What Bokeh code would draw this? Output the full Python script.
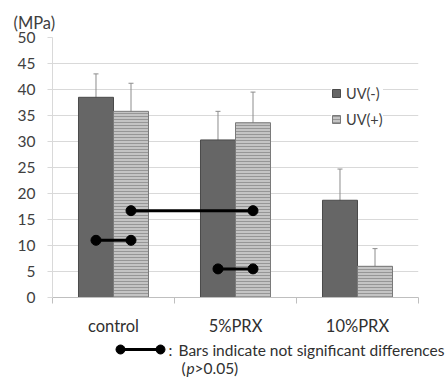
from bokeh.plotting import figure
from bokeh.models import (ColumnDataSource, FixedTicker, Range1d, Whisker, TeeHead,
                          Label, Legend, LegendItem, Title)
from bokeh.embed import file_html
from bokeh.resources import INLINE

categories = ["control", "5%PRX", "10%PRX"]
series = ["UV(-)", "UV(+)"]
uv_minus = [38.5, 30.3, 18.7]
uv_minus_err_hi = [43.0, 35.8, 24.7]
uv_minus_err_lo = [34.0, 24.9, 12.9]
uv_plus = [35.8, 33.6, 6.0]
uv_plus_err_hi = [41.2, 39.5, 9.4]
uv_plus_err_lo = [30.3, 27.7, 2.7]
y_ticks = [0, 5, 10, 15, 20, 25, 30, 35, 40, 45, 50]

# non-significant pairs: (category, series index) -> (category, series index) at height
sig_from_cat = ["control", "control", "5%PRX"]
sig_from_ser = [0, 1, 0]
sig_to_cat = ["control", "5%PRX", "5%PRX"]
sig_to_ser = [1, 1, 1]
sig_y = [11.0, 16.7, 5.5]

FONT = "Lato"
TXT = "#404040"
GRID = "#d9d9d9"
BW = 0.287
OFF = [-BW / 2, BW / 2]

def xpos(cat, s):
    return categories.index(cat) + 0.5 + OFF[s]

p = figure(width=448, height=338, output_backend="svg", toolbar_location=None,
           x_range=Range1d(0, 3), y_range=Range1d(0, 50),
           min_border_left=52, min_border_right=30, min_border_top=37, min_border_bottom=38)
p.title = Title(text="(MPa)", align="left", offset=-39, text_font=FONT,
                text_font_size="16.5px", text_font_style="normal", text_color=TXT, standoff=10)
p.outline_line_color = None
p.background_fill_color = "white"
p.border_fill_color = "white"

p.ygrid.grid_line_color = GRID
p.ygrid.grid_line_width = 1
p.xgrid.grid_line_color = None

p.yaxis.ticker = FixedTicker(ticks=y_ticks)
p.yaxis.axis_line_color = GRID
p.yaxis.major_tick_line_color = GRID
p.yaxis.major_tick_out = 5
p.yaxis.major_tick_in = 0
p.yaxis.minor_tick_line_color = None
p.yaxis.major_label_standoff = 12
p.yaxis.major_label_text_font = FONT
p.yaxis.major_label_text_font_size = "15.5px"
p.yaxis.major_label_text_color = TXT

centers = [i + 0.5 for i in range(len(categories))]
p.xaxis.ticker = FixedTicker(ticks=centers, minor_ticks=[0, 1, 2, 3])
p.xaxis.major_label_overrides = {c: categories[i] for i, c in enumerate(centers)}
p.xaxis.axis_line_color = "#bfbfbf"
p.xaxis.major_tick_line_color = None
p.xaxis.major_tick_out = 0
p.xaxis.minor_tick_line_color = "#bfbfbf"
p.xaxis.minor_tick_out = 6
p.xaxis.minor_tick_in = 0
p.xaxis.major_label_standoff = 12
p.xaxis.major_label_text_font = FONT
p.xaxis.major_label_text_font_size = "16.5px"
p.xaxis.major_label_text_color = "#303030"

src_m = ColumnDataSource(dict(x=[xpos(c, 0) for c in categories], top=uv_minus,
                              hi=uv_minus_err_hi, lo=uv_minus_err_lo))
src_p = ColumnDataSource(dict(x=[xpos(c, 1) for c in categories], top=uv_plus,
                              hi=uv_plus_err_hi, lo=uv_plus_err_lo))

r_m = p.vbar(x="x", top="top", bottom=0, width=BW, source=src_m,
             fill_color="#666666", line_color="#4a4a4a", line_width=1)
r_p = p.vbar(x="x", top="top", bottom=0, width=BW, source=src_p,
             fill_color="#c4c4c4", line_color="#7a7a7a", line_width=1,
             hatch_pattern="horizontal_line", hatch_color="#969696",
             hatch_scale=3, hatch_weight=1)

for src in (src_m, src_p):
    w = Whisker(base="x", upper="hi", lower="lo", source=src, dimension="height",
                line_color="#8c8c8c", line_width=1,
                upper_head=TeeHead(size=5, line_color="#8c8c8c", line_width=1),
                lower_head=TeeHead(size=5, line_color="#8c8c8c", line_width=1))
    p.add_layout(w)

sig_src = ColumnDataSource(dict(
    x0=[xpos(c, s) for c, s in zip(sig_from_cat, sig_from_ser)],
    x1=[xpos(c, s) for c, s in zip(sig_to_cat, sig_to_ser)],
    y=sig_y))
p.segment(x0="x0", y0="y", x1="x1", y1="y", source=sig_src, line_color="black", line_width=3)
p.scatter(x="x0", y="y", source=sig_src, size=10, color="black")
p.scatter(x="x1", y="y", source=sig_src, size=10, color="black")

legend = Legend(items=[LegendItem(label=series[0], renderers=[r_m]),
                       LegendItem(label=series[1], renderers=[r_p])],
                location=(279, 168), glyph_width=10, glyph_height=10,
                label_height=20, spacing=6, padding=6, label_standoff=5,
                label_text_font=FONT, label_text_font_size="14.5px", label_text_color=TXT,
                border_line_color=None, background_fill_color="white",
                background_fill_alpha=1.0)
p.add_layout(legend)

# footnote (separate root so its frame spans the full width)
f = figure(width=448, height=39, output_backend="svg", toolbar_location=None,
           x_range=Range1d(0, 448), y_range=Range1d(0, 39),
           x_axis_location=None, y_axis_location=None,
           min_border_left=0, min_border_right=0, min_border_top=0, min_border_bottom=0)
f.grid.visible = False
f.outline_line_color = None
f.segment(x0=[120], y0=[28], x1=[160], y1=[28], line_color="black", line_width=3)
f.scatter(x=[120, 160], y=[28, 28], size=9, color="black")
for x, y, t, st in [(168, 28, ":", "normal"),
                    (178, 28, "Bars indicate not significant differences", "normal"),
                    (181, 10, "(", "normal"), (186, 10, "p", "italic"), (194, 10, ">0.05)", "normal")]:
    f.add_layout(Label(x=x, y=y, text=t, text_font=FONT, text_font_size="15.5px",
                       text_font_style=st, text_color="#303030", text_baseline="middle"))

open("out.html", "w").write(file_html([p, f], INLINE))
